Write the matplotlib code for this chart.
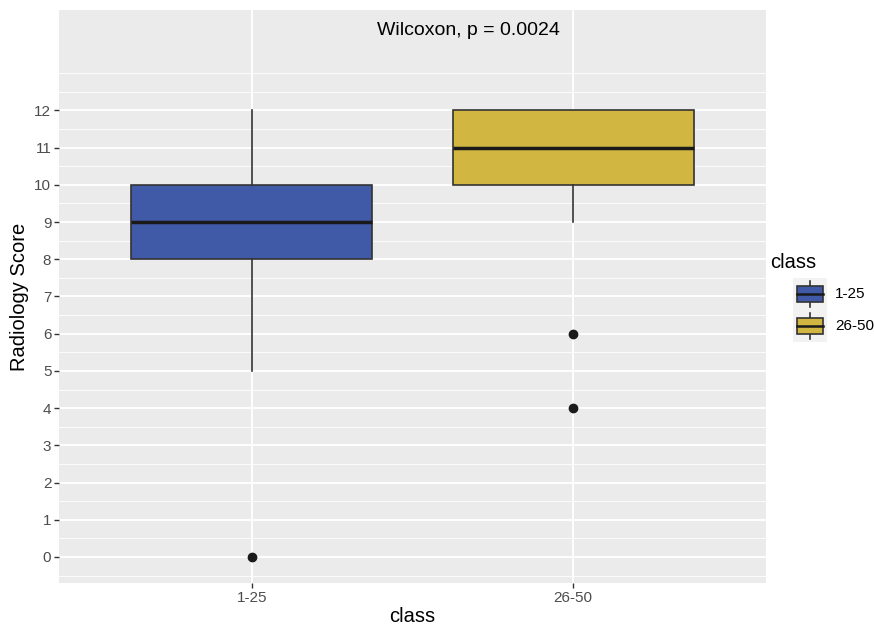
import matplotlib.pyplot as plt
from matplotlib.patches import Rectangle

plt.rcParams['font.family'] = ['Liberation Sans', 'DejaVu Sans']

# box statistics
classes = ['1-25', '26-50']
q1 = [8, 10]
med = [9, 11]
q3 = [10, 12]
whislo = [5, 9]
whishi = [12, 12]
fliers = [[0], [6, 4]]
colors = ['#405AA8', '#D1B741']
label_txt = 'Wilcoxon, p = 0.0024'
yticks = list(range(0, 13))

W, H = 874, 628
fig = plt.figure(figsize=(W / 100, H / 100), dpi=100)
ax = fig.add_axes([59 / W, 1 - 583 / H, (766 - 59) / W, (583 - 10) / H])
ax.set_facecolor('#EBEBEB')

stats = []
for i in range(len(classes)):
    stats.append(dict(q1=q1[i], med=med[i], q3=q3[i], whislo=whislo[i],
                      whishi=whishi[i], fliers=fliers[i], label=classes[i]))

bp = ax.bxp(stats, positions=[1, 2], widths=0.75, patch_artist=True,
            showcaps=False,
            boxprops=dict(edgecolor='#333333', linewidth=1.2),
            medianprops=dict(color='#1A1A1A', linewidth=2.5),
            whiskerprops=dict(color='#333333', linewidth=1.2),
            flierprops=dict(marker='o', markerfacecolor='#1A1A1A',
                            markeredgecolor='#1A1A1A', markersize=6))
for patch, c in zip(bp['boxes'], colors):
    patch.set_facecolor(c)
for b in bp['boxes'] + bp['medians'] + bp['whiskers'] + bp['fliers']:
    b.set_zorder(3)

ax.set_xlim(0.4, 2.6)
ax.set_ylim(-0.7, 14.7)
ax.set_yticks(yticks)
ax.set_yticks([v + 0.5 for v in range(-1, 13)] + [13], minor=True)
ax.set_xticks([1, 2])
ax.set_xticklabels(classes)
ax.grid(which='major', color='white', linewidth=1.3, zorder=0)
ax.grid(which='minor', axis='y', color='white', linewidth=0.6, zorder=0)
ax.set_axisbelow(True)
for s in ax.spines.values():
    s.set_visible(False)
ax.tick_params(which='major', length=3.5, width=1, color='#333333',
               labelsize=11, labelcolor='#4D4D4D', pad=2)
ax.tick_params(which='minor', length=0)
ax.set_xlabel('class', fontsize=14.5, labelpad=2)
ax.set_ylabel('Radiology Score', fontsize=14.5, labelpad=4)

ax.text(1.675, 14.15, label_txt, ha='center', va='center', fontsize=14)

# legend drawn by hand to look like ggplot keys
fig.text(770 / W, 1 - 262 / H, 'class', fontsize=14.5, va='center', ha='left')
lax = fig.add_axes([793 / W, 1 - 342 / H, 34 / W, 64 / H])
lax.set_facecolor('#F2F2F2')
lax.set_xlim(0, 1)
lax.set_ylim(0, 2)
lax.set_xticks([])
lax.set_yticks([])
for s in lax.spines.values():
    s.set_visible(False)
for i, c in enumerate(colors):
    yc = 1.5 - i
    lax.plot([0.5, 0.5], [yc - 0.42, yc + 0.42], color='#333333', lw=1.2)
    lax.add_patch(Rectangle((0.13, yc - 0.25), 0.74, 0.5, facecolor=c,
                            edgecolor='#333333', lw=1.2, zorder=2))
    lax.plot([0.13, 0.87], [yc, yc], color='#1A1A1A', lw=1.8, zorder=3)
    fig.text(835 / W, 1 - (294 + 32 * i) / H, classes[i], fontsize=11,
             va='center', ha='left')

fig.savefig('out.png', dpi=100)
